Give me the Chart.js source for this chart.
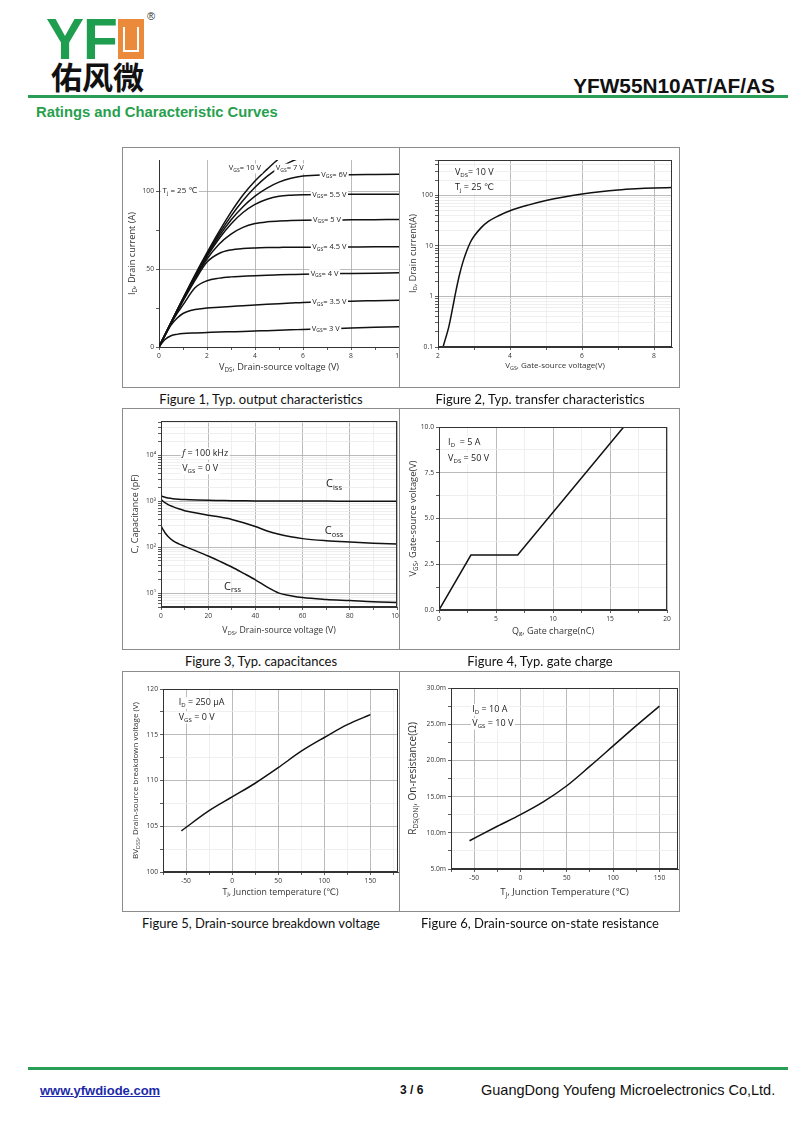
<!DOCTYPE html>
<html><head><meta charset="utf-8">
<script src="https://cdn.jsdelivr.net/npm/chart.js@4.4.1/dist/chart.umd.min.js"></script>
<style>
html,body{margin:0;padding:0;background:#fff;}
body{width:800px;height:1130px;position:relative;overflow:hidden;font-family:"Liberation Sans",Arial,sans-serif;}
.abs{position:absolute;white-space:nowrap;}
.panel{position:absolute;box-sizing:border-box;border:1.5px solid #8c8c8c;background:#fff;}
canvas{position:absolute;}
.cap{position:absolute;font-family:Lato,"Open Sans",sans-serif;font-size:13px;line-height:14px;color:#111;white-space:nowrap;transform:translate(-50%,-50%);}
</style></head><body>

<!-- header -->
<div class="abs" style="left:46px;top:11px;font:bold 57px/57px 'Liberation Sans',Arial;color:#1f9e4f;letter-spacing:-1px;">YF</div>
<div class="abs" style="left:118px;top:19px;width:26px;height:40px;background:#ea8a3a;">
  <div class="abs" style="left:5px;top:8px;width:12px;height:23px;border:2px solid #fff;border-top:none;"></div>
</div>
<div class="abs" style="left:147px;top:11px;font:11px/11px 'Liberation Sans';color:#333;">®</div>
<div class="abs" style="left:51px;top:60px;font:bold 31px/31px 'Noto Sans CJK SC';color:#111;">佑风微</div>
<div class="abs" style="right:25px;top:76px;font:bold 20.8px/20.8px 'Liberation Sans',Arial;color:#111;">YFW55N10AT/AF/AS</div>
<div class="abs" style="left:28px;top:95px;width:760px;height:2.5px;background:#2a9d56;"></div>
<div class="abs" style="left:36px;top:104.5px;font:bold 14.8px/15px 'Liberation Sans',Arial;color:#27a04e;">Ratings and Characteristic Curves</div>

<!-- row 1 -->
<div class="panel" style="left:122px;top:147px;width:278px;height:241px;"></div>
<canvas id="c1"></canvas>
<div class="panel" style="left:399px;top:147px;width:281px;height:241px;"></div>
<canvas id="c2"></canvas>
<div class="cap" style="left:261px;top:399px;">Figure 1, Typ. output characteristics</div>
<div class="cap" style="left:540px;top:399px;">Figure 2, Typ. transfer characteristics</div>

<!-- row 2 -->
<div class="panel" style="left:122px;top:408px;width:278px;height:242px;"></div>
<canvas id="c3"></canvas>
<div class="panel" style="left:399px;top:408px;width:281px;height:242px;"></div>
<canvas id="c4"></canvas>
<div class="cap" style="left:261px;top:661px;">Figure 3, Typ. capacitances</div>
<div class="cap" style="left:540px;top:661px;">Figure 4, Typ. gate charge</div>

<!-- row 3 -->
<div class="panel" style="left:122px;top:671px;width:278px;height:241px;"></div>
<canvas id="c5"></canvas>
<div class="panel" style="left:399px;top:671px;width:281px;height:241px;"></div>
<canvas id="c6"></canvas>
<div class="cap" style="left:261px;top:923px;">Figure 5, Drain-source breakdown voltage</div>
<div class="cap" style="left:540px;top:923px;">Figure 6, Drain-source on-state resistance</div>

<!-- footer -->
<div class="abs" style="left:28px;top:1067px;width:760px;height:2.5px;background:#2a9d56;"></div>
<div class="abs" style="left:40px;top:1083.5px;font:bold 13px/13px 'Liberation Sans',Arial;color:#1c2aa8;text-decoration:underline;">www.yfwdiode.com</div>
<div class="abs" style="left:400px;top:1084px;font:bold 12px/12px 'Liberation Sans',Arial;color:#111;">3 / 6</div>
<div class="abs" style="left:481px;top:1082.5px;font:14.5px/14.5px 'Liberation Sans',Arial;color:#111;">GuangDong Youfeng Microelectronics Co,Ltd.</div>

<script>
// ================= DATA =================
// Figure 1: output characteristics (VDS in V, ID in A)
const fig1Vds  = [0,0.25,0.5,0.75,1,1.5,2,2.5,3,3.5,4,4.5,5,5.5,6,7,8,9,10];
const fig1Id3V   = [0,4.8,7.2,8.1,8.6,9.0,9.3,9.6,9.8,10.0,10.3,10.5,10.8,11.0,11.3,11.7,12.2,12.6,13.0];
const fig1Id3_5V = [0,7.3,14.0,18.5,21.5,24.0,25.0,25.5,26.0,26.5,27.0,27.4,27.8,28.2,28.6,29.0,29.4,29.7,30.0];
const fig1Id4V   = [0,7.7,15.0,21.5,27.0,38.0,42.5,44.2,45.0,45.4,45.8,46.1,46.3,46.5,46.7,47.0,47.2,47.4,47.6];
const fig1Id4_5V = [0,7.8,15.3,22.6,29.5,42.8,54.5,60.0,62.3,63.2,63.6,63.8,63.9,64.0,64.0,64.1,64.2,64.3,64.3];
const fig1Id5V   = [0,7.8,15.5,23.0,30.0,44.0,56.5,66.0,72.5,76.8,79.2,80.3,80.8,81.1,81.3,81.5,81.6,81.7,81.8];
const fig1Id5_5V = [0,7.8,15.5,23.2,30.5,44.8,58.0,69.5,79.0,86.3,91.5,94.8,96.7,97.4,97.7,97.9,98.0,98.0,98.0];
const fig1Id6V   = [0,7.8,15.5,23.2,30.7,45.2,58.8,71.0,81.5,90.0,96.8,102.0,105.8,108.3,109.7,110.4,110.6,110.7,110.8];
const fig1Id7V   = [0,7.8,15.6,23.4,31.0,45.7,59.5,72.5,84.0,94.0,102.5,109.5,115.0,119.0,122.0,null,null,null,null];
const fig1Id10V  = [0,7.8,15.7,23.5,31.2,46.3,60.5,74.0,86.5,97.5,106.5,114.0,121.0,null,null,null,null,null,null];
const fig1Labels = ['V_{GS}= 3 V','V_{GS}= 3.5 V','V_{GS}= 4 V','V_{GS}= 4.5 V','V_{GS}= 5 V','V_{GS}= 5.5 V','V_{GS}= 6V','V_{GS}= 7 V','V_{GS}= 10 V'];

// Figure 2: transfer characteristics (VGS in V, ID in A)
const fig2Vgs = [2.14,2.2,2.3,2.4,2.5,2.6,2.7,2.8,2.9,3.0,3.2,3.4,3.7,4.0,4.5,5.0,5.5,6.0,6.5,7.0,7.5,8.0,8.5];
const fig2Id  = [0.1,0.14,0.25,0.56,1.3,2.75,5.0,8.0,11.8,15.5,23,30.5,40,49.5,64,79,93,106,118,128,135,140,143];

// Figure 3: capacitances (VDS in V, C in pF)
const fig3Vds  = [0,1,2,3,5,7.5,10,15,20,25,30,35,40,45,50,55,60,70,80,90,100];
const fig3Ciss = [1300,1240,1200,1170,1130,1100,1080,1055,1040,1030,1020,1015,1010,1005,1005,1000,1000,1000,995,995,990];
const fig3Coss = [1100,980,900,840,760,680,620,550,495,450,400,340,280,225,190,168,153,138,129,122,117];
const fig3Crss = [290,235,195,170,138,118,104,82,64,49,37,27,19.5,13.5,10,8.8,8.0,7.3,6.9,6.5,6.3];

// Figure 4: gate charge (Qg in nC, VGS in V)
const fig4Qg  = [0,2.8,6.9,16.2];
const fig4Vgs = [0,3.0,3.0,10.0];

// Figure 5 / 6: vs junction temperature (deg C)
const fig56Tj = [-55,-25,0,25,50,75,100,125,150];
const fig5Bv  = [104.5,106.7,108.2,109.7,111.4,113.2,114.7,116.1,117.2];
const fig6Rds = [8.9,10.9,12.5,14.3,16.5,19.2,22.0,24.8,27.5];

// ================= HELPERS =================
const MAJOR = '#aaaaaa', MINOR = '#ebebeb', NONE = 'rgba(0,0,0,0)';
const TICK_FONT = {family:'Open Sans', size:6.7};
const SUP = {1:'¹',2:'²',3:'³',4:'⁴'};

function parseRich(s){
  const out=[]; const re=/([_^~])\{([^}]*)\}/g; let last=0, m;
  while((m=re.exec(s))){
    if(m.index>last) out.push({t:s.slice(last,m.index),k:0});
    out.push({t:m[2],k: m[1]==='_'?1 : m[1]==='^'?2 : 3});
    last=re.lastIndex;
  }
  if(last<s.length) out.push({t:s.slice(last),k:0});
  return out;
}
function drawRich(ctx, s, x, y, size, o){
  o = o||{};
  const segs = parseRich(s);
  const fam = '"Open Sans", "DejaVu Sans", sans-serif';
  const fontFor = k => (k===3 ? 'italic ' : '') + ((k===1||k===2) ? size*0.68 : size) + 'px ' + fam;
  ctx.save();
  ctx.translate(x,y);
  if(o.rot) ctx.rotate(o.rot);
  let w=0;
  segs.forEach(g=>{ ctx.font=fontFor(g.k); g.w=ctx.measureText(g.t).width; w+=g.w; });
  let sx = o.align==='left' ? 0 : o.align==='right' ? -w : -w/2;
  if(o.bg){ ctx.fillStyle=o.bg; ctx.fillRect(sx-1.5, -size*0.62, w+3, size*1.3); }
  ctx.fillStyle = o.color || '#222';
  ctx.textBaseline='middle'; ctx.textAlign='left';
  segs.forEach(g=>{
    ctx.font=fontFor(g.k);
    const dy = g.k===1 ? size*0.3 : g.k===2 ? -size*0.35 : 0;
    ctx.fillText(g.t, sx, dy); sx+=g.w;
  });
  ctx.restore();
}

const deco = {
  id:'deco',
  afterDatasetsDraw(chart, args, opts){
    const ctx=chart.ctx, ca=chart.chartArea, sx=chart.scales.x, sy=chart.scales.y;
    if(opts.frame){
      ctx.save(); ctx.strokeStyle='#333'; ctx.lineWidth=1;
      ctx.strokeRect(ca.left+0.5, ca.top+0.5, ca.right-ca.left-1, ca.bottom-ca.top-1);
      ctx.restore();
    }
    (opts.notes||[]).forEach(n => drawRich(ctx, n.text, sx.getPixelForValue(n.x), sy.getPixelForValue(n.y), n.size||9, n));
    if(opts.xTitle) drawRich(ctx, opts.xTitle, (ca.left+ca.right)/2, ca.bottom+opts.xOff, opts.xSize||9, {color:'#333'});
    if(opts.yTitle) drawRich(ctx, opts.yTitle, ca.left-opts.yOff, (ca.top+ca.bottom)/2, opts.ySize||9, {rot:-Math.PI/2, color:'#333'});
  }
};

function range(a,b,st){ const r=[]; for(let i=0; a+i*st<=b+1e-9; i++) r.push(+(a+i*st).toFixed(6)); return r; }
function isMult(v, step){ return Math.abs(v/step - Math.round(v/step))<1e-6; }

function linAxis(o){
  return {
    type:'linear', min:o.min, max:o.max,
    afterBuildTicks: s => { s.ticks = range(o.t0, o.t1, o.step).map(v=>({value:v})); },
    ticks:{ autoSkip:false, maxRotation:0, minRotation:0, padding:2, font:TICK_FONT, color:'#333',
            callback: v => isMult(v,o.major) ? o.fmt(v) : '' },
    grid:{ color: c => { const v=c.tick?c.tick.value:0; return isMult(v,o.major) ? MAJOR : (o.minor||MINOR); },
           tickColor:'#333', tickLength:3, lineWidth:0.8 },
    border:{ color:'#333', width:1 }
  };
}
function logAxis(o){
  const vals=[];
  for(let e=-2;e<=5;e++) for(let m=1;m<=9;m++){ const v=+(m*Math.pow(10,e)).toPrecision(6); if(v>=o.min*0.999 && v<=o.max*1.001) vals.push(v); }
  const isDec = v => { const l=Math.log10(v); return Math.abs(l-Math.round(l))<1e-6; };
  return {
    type:'logarithmic', min:o.min, max:o.max,
    afterBuildTicks: s => { s.ticks = vals.map(v=>({value:v})); },
    ticks:{ autoSkip:false, padding:2, font:TICK_FONT, color:'#333',
            callback: v => isDec(v) ? o.fmt(Math.round(Math.log10(v))) : '' },
    grid:{ color: c => { const v=c.tick?c.tick.value:1; return isDec(v) ? MAJOR : MINOR; },
           tickColor:'#333', tickLength:3, lineWidth:0.8 },
    border:{ color:'#333', width:1 }
  };
}

function makeChart(id, box, plot, cfg){
  const cv=document.getElementById(id);
  cv.width=box.w; cv.height=box.h;
  cv.style.left=box.l+'px'; cv.style.top=box.t+'px'; cv.style.width=box.w+'px'; cv.style.height=box.h+'px';
  const yW=plot.l-box.l, xH=box.t+box.h-plot.b, padT=plot.t-box.t, padR=box.l+box.w-plot.r;
  const zeroPad = s => { s.paddingLeft=0; s.paddingRight=0; s.paddingTop=0; s.paddingBottom=0; };
  cfg.x.position='bottom'; cfg.x.afterFit = s => { s.height=xH; zeroPad(s); };
  cfg.y.position='left';   cfg.y.afterFit = s => { s.width=yW; zeroPad(s); };
  return new Chart(cv, {
    type:'scatter',
    data:{ datasets: cfg.series.map(s => ({
      data: s.xs.map((x,i)=>({x:x, y:s.ys[i]})).filter(p=>p.y!==null),
      showLine:true, borderColor:'#111', backgroundColor:'#111', borderWidth:1.5,
      pointRadius:0, pointHoverRadius:0, fill:false,
      cubicInterpolationMode: cfg.smooth ? 'monotone' : 'default', tension:0
    }))},
    options:{
      responsive:false, animation:false, events:[],
      layout:{ padding:{ top:padT, right:padR, left:0, bottom:0 } },
      plugins:{ legend:{display:false}, tooltip:{enabled:false}, deco:cfg.deco },
      scales:{ x:cfg.x, y:cfg.y }
    },
    plugins:[deco]
  });
}

// ================= CHARTS =================
// Figure 1
const f1series = [fig1Id3V,fig1Id3_5V,fig1Id4V,fig1Id4_5V,fig1Id5V,fig1Id5_5V,fig1Id6V,fig1Id7V,fig1Id10V].map(ys=>({xs:fig1Vds, ys:ys}));
makeChart('c1', {l:124,t:149,w:286,h:237}, {l:159,t:160,r:399,b:347}, {
  smooth:true, series:f1series,
  x: linAxis({min:0,max:10,t0:0,t1:10,step:1,major:2,fmt:v=>String(v),minor:NONE}),
  y: linAxis({min:0,max:120,t0:0,t1:100,step:25,major:50,fmt:v=>String(v),minor:NONE}),
  deco:{ xTitle:'V_{DS}, Drain-source voltage (V)', xOff:20, xSize:9.2, yTitle:'I_{D}, Drain current (A)', yOff:27, ySize:9.2,
    notes:[
      {text:fig1Labels[0], x:6.95, y:11.7, size:7.5, bg:'#fff'},
      {text:fig1Labels[1], x:7.1, y:29.0, size:7.5, bg:'#fff'},
      {text:fig1Labels[2], x:6.9, y:47.0, size:7.5, bg:'#fff'},
      {text:fig1Labels[3], x:7.1, y:64.1, size:7.5, bg:'#fff'},
      {text:fig1Labels[4], x:7.0, y:81.8, size:7.5, bg:'#fff'},
      {text:fig1Labels[5], x:7.1, y:97.9, size:7.5, bg:'#fff'},
      {text:fig1Labels[6], x:7.3, y:110.6, size:7.5, bg:'#fff'},
      {text:fig1Labels[7], x:5.45, y:114.7, size:7.5, bg:'#fff'},
      {text:fig1Labels[8], x:3.58, y:114.7, size:7.5, bg:'#fff'},
      {text:'T_{j} = 25 ℃', x:0.15, y:100, size:8, bg:'#fff', align:'left'}
    ]}
});

// Figure 2
makeChart('c2', {l:401,t:149,w:278,h:237}, {l:438,t:160,r:672,b:347}, {
  smooth:true, series:[{xs:fig2Vgs, ys:fig2Id}],
  x: linAxis({min:2,max:8.5,t0:2,t1:8,step:1,major:2,fmt:v=>String(v)}),
  y: logAxis({min:0.1,max:500,fmt:e=> e<0 ? '0.1' : String(Math.pow(10,e))}),
  deco:{ frame:true, xTitle:'V_{GS}, Gate-source voltage(V)', xOff:19, xSize:8, yTitle:'I_{D}, Drain current(A)', yOff:25, ySize:9,
    notes:[
      {text:'V_{DS}= 10 V', x:2.47, y:282, size:9, bg:'#fff', align:'left'},
      {text:'T_{j} = 25 ℃', x:2.47, y:143, size:9, bg:'#fff', align:'left'}
    ]}
});

// Figure 3
makeChart('c3', {l:124,t:410,w:288,h:238}, {l:161,t:421,r:397,b:607}, {
  smooth:true, series:[{xs:fig3Vds,ys:fig3Ciss},{xs:fig3Vds,ys:fig3Coss},{xs:fig3Vds,ys:fig3Crss}],
  x: linAxis({min:0,max:100,t0:0,t1:100,step:10,major:20,fmt:v=>String(v)}),
  y: logAxis({min:5,max:55000,fmt:e=>'10'+SUP[e]}),
  deco:{ frame:true, xTitle:'V_{DS}, Drain-source voltage (V)', xOff:24, xSize:8.7, yTitle:'C, Capacitance (pF)', yOff:26, ySize:9,
    notes:[
      {text:'~{f} = 100 kHz', x:9, y:11000, size:9, bg:'#fff', align:'left'},
      {text:'V_{GS} = 0 V', x:9, y:5200, size:9, bg:'#fff', align:'left'},
      {text:'C_{iss}', x:73.3, y:2330, size:11},
      {text:'C_{oss}', x:73.3, y:221, size:11},
      {text:'C_{rss}', x:30.3, y:14, size:11}
    ]}
});

// Figure 4
makeChart('c4', {l:401,t:410,w:278,h:238}, {l:439,t:427,r:667,b:610}, {
  smooth:false, series:[{xs:fig4Qg, ys:fig4Vgs}],
  x: linAxis({min:0,max:20,t0:0,t1:20,step:2.5,major:5,fmt:v=>String(v)}),
  y: linAxis({min:0,max:10,t0:0,t1:10,step:1.25,major:2.5,fmt:v=>v.toFixed(1)}),
  deco:{ frame:true, xTitle:'Q_{g}, Gate charge(nC)', xOff:21, xSize:9, yTitle:'V_{GS}, Gate-source voltage(V)', yOff:26, ySize:9.3,
    notes:[
      {text:'I_{D}  = 5 A', x:0.8, y:9.17, size:9, bg:'#fff', align:'left'},
      {text:'V_{DS} = 50 V', x:0.8, y:8.3, size:9, bg:'#fff', align:'left'}
    ]}
});

// Figure 5
makeChart('c5', {l:124,t:673,w:275,h:237}, {l:163,t:689,r:398,b:872}, {
  smooth:true, series:[{xs:fig56Tj, ys:fig5Bv}],
  x: linAxis({min:-75,max:180,t0:-75,t1:175,step:25,major:50,fmt:v=>String(v)}),
  y: linAxis({min:100,max:120,t0:100,t1:120,step:2.5,major:5,fmt:v=>String(v)}),
  deco:{ frame:true, xTitle:'T_{J}, Junction temperature (℃)', xOff:20, xSize:8.8, yTitle:'BV_{DSS}, Drain-source breakdown voltage (V)', yOff:27, ySize:8,
    notes:[
      {text:'I_{D} = 250 μA', x:-58, y:118.5, size:9, bg:'#fff', align:'left'},
      {text:'V_{GS} = 0 V', x:-58, y:116.9, size:9, bg:'#fff', align:'left'}
    ]}
});

// Figure 6
makeChart('c6', {l:401,t:673,w:278,h:237}, {l:451,t:688,r:678,b:869}, {
  smooth:true, series:[{xs:fig56Tj, ys:fig6Rds}],
  x: linAxis({min:-75,max:170,t0:-75,t1:150,step:25,major:50,fmt:v=>String(v)}),
  y: linAxis({min:5,max:30,t0:5,t1:30,step:2.5,major:5,fmt:v=>v.toFixed(1)+'m'}),
  deco:{ frame:true, xTitle:'T_{J}, Junction Temperature (℃)', xOff:23, xSize:9.6, yTitle:'R_{DS(ON)}, On-resistance(Ω)', yOff:38, ySize:10,
    notes:[
      {text:'I_{D} = 10 A', x:-52, y:27.0, size:9, bg:'#fff', align:'left'},
      {text:'V_{GS} = 10 V', x:-52, y:25.1, size:9, bg:'#fff', align:'left'}
    ]}
});
</script>
</body></html>
